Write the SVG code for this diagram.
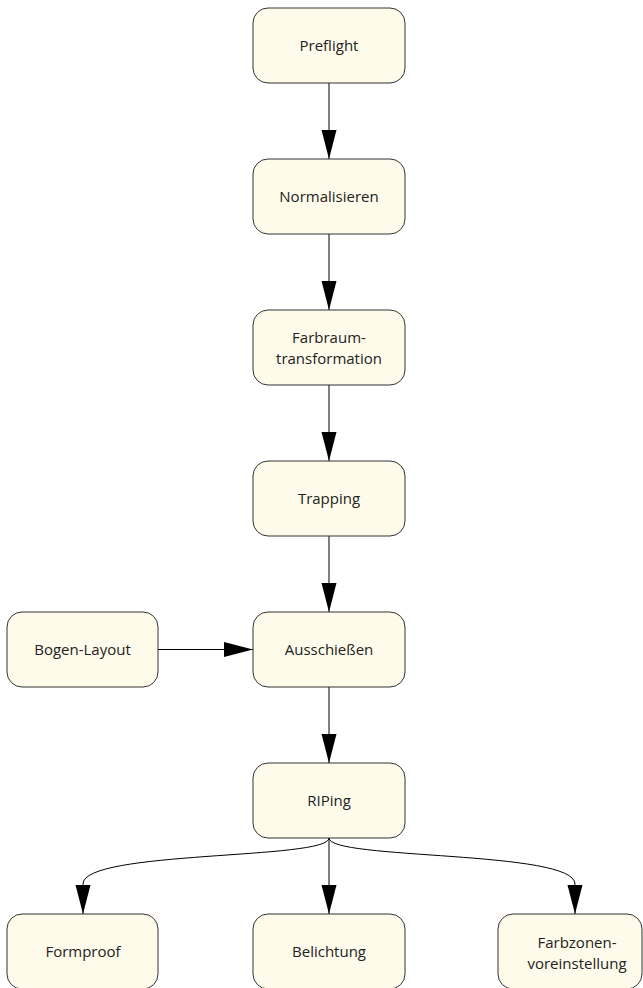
<svg xmlns="http://www.w3.org/2000/svg" width="643" height="988" viewBox="0 0 643 988">
  <style>
    .box { fill: #fefbea; stroke: #333333; stroke-width: 1; }
    .lbl { font-family: "Open Sans", "Liberation Sans", sans-serif; font-size: 15px; fill: #222222; text-anchor: middle; }
    .edge { fill: none; stroke: #000000; stroke-width: 1; }
  </style>
  <defs>
    <marker id="arrow" markerUnits="userSpaceOnUse" markerWidth="30" markerHeight="16" refX="29" refY="7.5" orient="auto">
      <path d="M0,0 L29,7.5 L0,15 Z" fill="#000000"/>
    </marker>
  </defs>

  <rect width="643" height="988" fill="#ffffff"/>

  <!-- connectors -->
  <g id="edges">
    <line class="edge" x1="329" y1="83" x2="329" y2="159" marker-end="url(#arrow)"/>
    <line class="edge" x1="329" y1="234" x2="329" y2="310" marker-end="url(#arrow)"/>
    <line class="edge" x1="329" y1="385" x2="329" y2="461" marker-end="url(#arrow)"/>
    <line class="edge" x1="329" y1="536" x2="329" y2="612" marker-end="url(#arrow)"/>
    <line class="edge" x1="158" y1="649.5" x2="253" y2="649.5" marker-end="url(#arrow)"/>
    <line class="edge" x1="329" y1="687" x2="329" y2="763" marker-end="url(#arrow)"/>
    <path class="edge" d="M329,838 C329,860 83,850 83,884 L83,914" marker-end="url(#arrow)"/>
    <line class="edge" x1="329" y1="838" x2="329" y2="914" marker-end="url(#arrow)"/>
    <path class="edge" d="M329,838 C329,860 575,850 575,884 L575,914" marker-end="url(#arrow)"/>
  </g>

  <!-- nodes -->
  <g id="preflight">
    <rect class="box" x="253" y="8" width="152" height="75" rx="15"/>
    <text class="lbl" x="329" y="51">Preflight</text>
  </g>
  <g id="normalisieren">
    <rect class="box" x="253" y="159" width="152" height="75" rx="15"/>
    <text class="lbl" x="329" y="202">Normalisieren</text>
  </g>
  <g id="farbraum">
    <rect class="box" x="253" y="310" width="152" height="75" rx="15"/>
    <text class="lbl" x="329" y="343">Farbraum-</text>
    <text class="lbl" x="329" y="364">transformation</text>
  </g>
  <g id="trapping">
    <rect class="box" x="253" y="461" width="152" height="75" rx="15"/>
    <text class="lbl" x="329" y="504">Trapping</text>
  </g>
  <g id="bogen-layout">
    <rect class="box" x="7" y="612" width="151" height="75" rx="15"/>
    <text class="lbl" x="82.5" y="655">Bogen-Layout</text>
  </g>
  <g id="ausschiessen">
    <rect class="box" x="253" y="612" width="152" height="75" rx="15"/>
    <text class="lbl" x="329" y="655">Ausschießen</text>
  </g>
  <g id="riping">
    <rect class="box" x="253" y="763" width="152" height="75" rx="15"/>
    <text class="lbl" x="329" y="806">RIPing</text>
  </g>
  <g id="formproof">
    <rect class="box" x="7" y="914" width="151" height="75" rx="15"/>
    <text class="lbl" x="83" y="957">Formproof</text>
  </g>
  <g id="belichtung">
    <rect class="box" x="253" y="914" width="152" height="75" rx="15"/>
    <text class="lbl" x="329" y="957">Belichtung</text>
  </g>
  <g id="farbzonen">
    <rect class="box" x="498" y="914" width="144" height="75" rx="15"/>
    <text class="lbl" x="577" y="948">Farbzonen-</text>
    <text class="lbl" x="577" y="969">voreinstellung</text>
  </g>
</svg>
